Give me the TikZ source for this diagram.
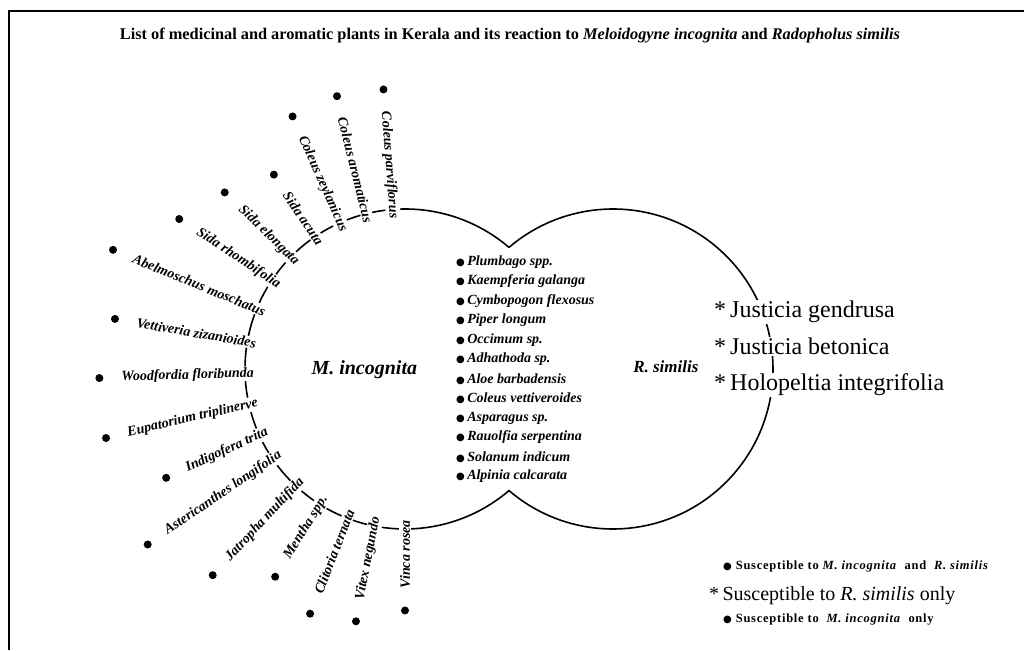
\documentclass[tikz,border=0pt]{standalone}
\usepackage{fontspec}
\setmainfont{Liberation Serif}
\newfontfamily\symfont{DejaVu Sans}
\newcommand\blob{{\symfont\fontsize{10}{10}\selectfont ●}}

\tikzset{
  plant/.style={font=\fontsize{14}{14}\selectfont\bfseries\itshape, fill=white, inner sep=1pt, anchor=east},
  plantdot/.style={circle, fill=black, inner sep=0pt, minimum size=8pt},
  listitem/.style={font=\fontsize{14}{14}\selectfont\bfseries\itshape, anchor=west, inner sep=0pt},
  rsonly/.style={font=\fontsize{24}{24}\selectfont, fill=white, inner sep=1pt, anchor=base west},
  legend/.style={anchor=west, inner sep=0pt, font=\fontsize{12.5}{12.5}\selectfont\bfseries\addfontfeatures{LetterSpace=6}}
}

\begin{document}
\begin{tikzpicture}[x=1pt,y=1pt]
\useasboundingbox (0,0) rectangle (1024,650);
\draw[line width=1.2pt] (9,0) -- (9,639) -- (1024,639);
\node[font=\fontsize{16.3}{16.3}\selectfont\bfseries] (title) at (510,614)
  {List of medicinal and aromatic plants in Kerala and its reaction to \textit{Meloidogyne incognita} and \textit{Radopholus similis}};

\coordinate (mi) at (405,281);
\coordinate (rs) at (613,281);
\draw[line width=1.6pt] (mi) ++(49.46:160)
  arc[start angle=49.46, end angle=310.54, radius=160]
  arc[start angle=229.46, end angle=490.54, radius=160];

\foreach \ang/\name [count=\i] in {94.4/Coleus parviflorus, 104/Coleus aromaticus,
  114/Coleus zeylanicus, 124/Sida acuta, 135.6/Sida elongata, 146.4/Sida rhombifolia,
  157.8/Abelmoschus moschatus, 170.2/Vettiveria zizanioides, 181.7/Woodfordia floribunda,
  193/Eupatorium triplinerve, 204.5/Indigofera trita, 214.3/Astericanthes longifolia,
  227/Jatropha multifida, 238/Mentha spp., 248.8/Clitoria ternata, 259/Vitex negundo,
  270/Vinca rosea}
{
  \path (mi) ++(\ang:150) node[plant, rotate=\ang+180] (lab\i) {\name};
  \path (lab\i.west) ++(\ang:21) node[plantdot] (dot\i) {};
}

\foreach \plant [count=\i from 0] in {Plumbago spp., Kaempferia galanga, Cymbopogon flexosus,
  Piper longum, Occimum sp., Adhathoda sp., Aloe barbadensis, Coleus vettiveroides,
  Asparagus sp., Rauolfia serpentina, Solanum indicum, Alpinia calcarata}
  \node[listitem] (both\i) at (456,388-19.5*\i) {\blob\,\plant};

\node[font=\fontsize{20}{20}\selectfont\bfseries\itshape, anchor=base west] (milab) at (308,275) {M. incognita};
\node[font=\fontsize{17}{17}\selectfont\bfseries\itshape, anchor=base east] (rslab) at (702,277) {R. similis};

\node[rsonly] (jg) at (713,332) {*\,Justicia gendrusa};
\node[rsonly] (jb) at (713,295) {*\,Justicia betonica};
\node[rsonly] (hi) at (713,259) {*\,Holopeltia integrifolia};

\node[legend] (key1) at (723,84) {\blob\ Susceptible to \textit{M. incognita}\ \ and \ \textit{R. similis}};
\node[anchor=base west, inner sep=0pt, font=\fontsize{20}{20}\selectfont] (key2) at (709,50) {*\,Susceptible to \textit{R. similis} only};
\node[legend] (key3) at (723,30) {\blob\ Susceptible to \ \textit{M. incognita}\ \ only};
\end{tikzpicture}
\end{document}
